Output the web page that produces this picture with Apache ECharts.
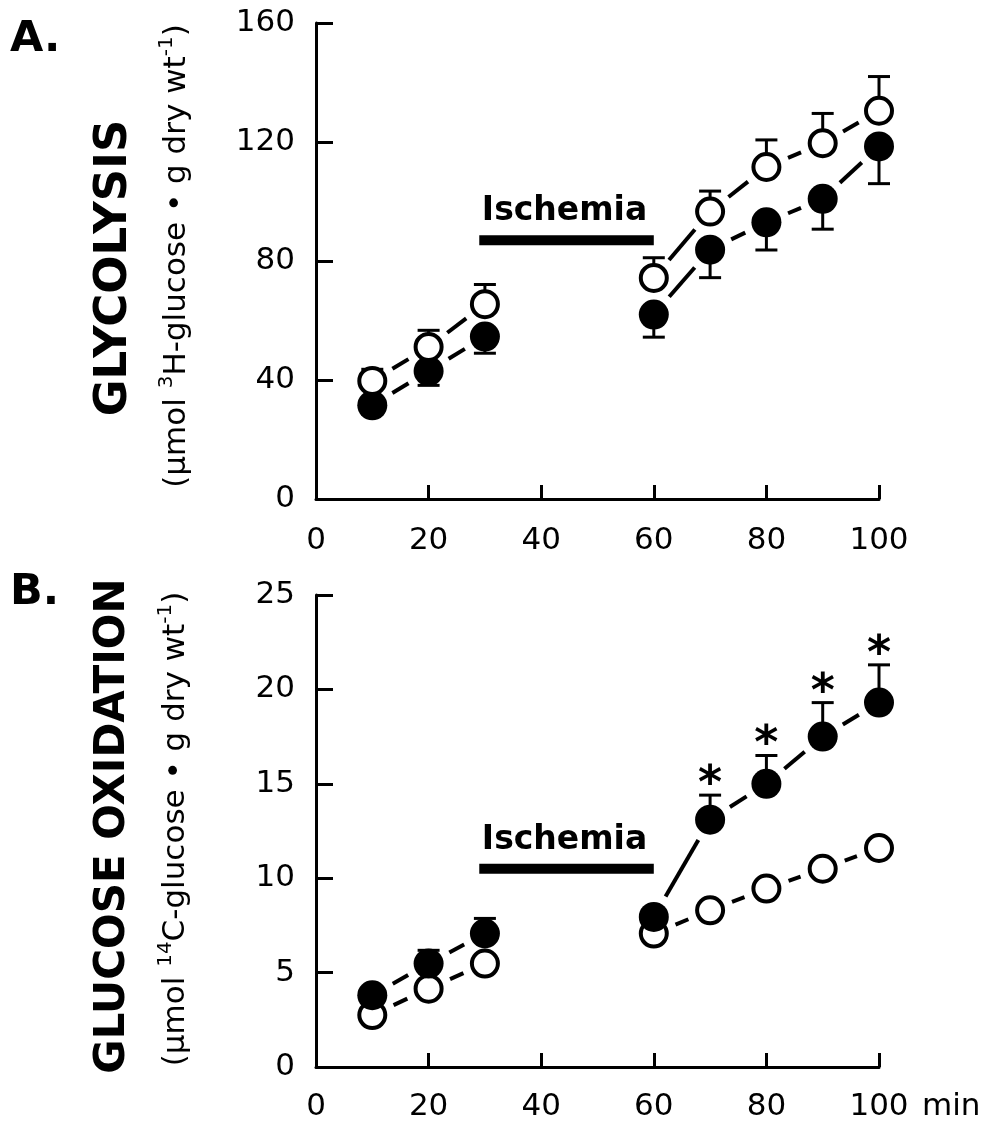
<!DOCTYPE html>
<html>
<head>
<meta charset="utf-8">
<script src="https://cdn.jsdelivr.net/npm/echarts@6/dist/echarts.min.js"></script>
<style>
html, body { margin: 0; padding: 0; background: #fff; }
#chart { width: 994px; height: 1128px; }
</style>
</head>
<body>
<div id="chart"></div>
<script>
// sampling times (min)
var minutes = [10, 20, 30, 60, 70, 80, 90, 100]

// A. glycolysis (umol 3H-glucose / g dry wt)
var glycOpen = [39.7, 51.1, 65.5, 74.3, 96.6, 111.6, 119.6, 130.5]
var glycOpenErr = [3.9, 5.6, 6.6, 6.8, 6.9, 9.1, 10.0, 11.5]
var glycFilled = [31.5, 43.0, 54.6, 62.0, 83.8, 93.0, 100.9, 118.5]
var glycFilledErr = [3.0, 4.8, 5.6, 7.6, 9.4, 9.3, 10.2, 12.5]

// B. glucose oxidation (umol 14C-glucose / g dry wt)
var oxOpen = [2.75, 4.15, 5.48, 7.07, 8.3, 9.45, 10.5, 11.6]
var oxFilled = [3.8, 5.48, 7.07, 7.95, 13.1, 15.0, 17.5, 19.3]
var oxFilledErr = [0.4, 0.7, 0.8, 0.4, 1.3, 1.5, 1.8, 2.0]
var oxSignificant = [0, 0, 0, 0, 1, 1, 1, 1]

// ischemia period
var ischemia = [29, 60]
var ischemiaLevel = [87, 10.5]

var chart = echarts.init(document.getElementById('chart'))

var R = 14.5      // marker radius in px
var GAP = 9       // gap between marker edge and dash

function pts(vals) {
    return minutes.map(function (m, i) { return [m, vals[i]] })
}
// consecutive points, not across the ischemia gap
function links(vals) {
    var out = []
    for (var i = 0; i < minutes.length - 1; i++) {
        if (minutes[i + 1] - minutes[i] > 10) continue
        out.push([minutes[i], vals[i], minutes[i + 1], vals[i + 1]])
    }
    return out
}
function bars(vals, errs, dir, sig) {
    return minutes.map(function (m, i) {
        return [m, vals[i], dir * errs[i], sig ? sig[i] : 0]
    })
}

function renderLink(params, api) {
    var p1 = api.coord([api.value(0), api.value(1)])
    var p2 = api.coord([api.value(2), api.value(3)])
    var dx = p2[0] - p1[0], dy = p2[1] - p1[1]
    var d = Math.sqrt(dx * dx + dy * dy)
    var len = Math.max(8, d - 2 * (R + GAP))
    var s = (d - len) / 2 / d, e = (d + len) / 2 / d
    return {
        type: 'line',
        shape: { x1: p1[0] + dx * s, y1: p1[1] + dy * s, x2: p1[0] + dx * e, y2: p1[1] + dy * e },
        style: { stroke: '#000', lineWidth: 4 }
    }
}

function renderErr(params, api) {
    var x = api.value(0), y = api.value(1), e = api.value(2)
    var p0 = api.coord([x, y])
    var p1 = api.coord([x, y + e])
    var kids = [
        { type: 'line', shape: { x1: p0[0], y1: p0[1], x2: p1[0], y2: p1[1] }, style: { stroke: '#000', lineWidth: 3 } },
        { type: 'line', shape: { x1: p1[0] - 11, y1: p1[1], x2: p1[0] + 11, y2: p1[1] }, style: { stroke: '#000', lineWidth: 3 } }
    ]
    if (api.value(3)) {
        kids.push({
            type: 'text', x: p1[0], y: p1[1] - 9,
            style: { text: '*', fontSize: 46, fontWeight: 'bold', fontFamily: 'DejaVu Sans', fill: '#000', align: 'center', verticalAlign: 'middle' }
        })
    }
    return { type: 'group', children: kids }
}

function renderIschemia(params, api) {
    var a = api.coord([api.value(0), api.value(2)])
    var b = api.coord([api.value(1), api.value(2)])
    return {
        type: 'group',
        children: [
            { type: 'rect', shape: { x: a[0], y: a[1] - 5, width: b[0] - a[0], height: 10 }, style: { fill: '#000' } },
            {
                type: 'text', x: (a[0] + b[0]) / 2 - 2, y: a[1] - 12,
                style: { text: 'Ischemia', fontSize: 33, fontWeight: 'bold', fontFamily: 'DejaVu Sans', fill: '#000', align: 'center', verticalAlign: 'bottom' }
            }
        ]
    }
}

var labelStyle = { color: '#000', fontSize: 31, fontFamily: 'DejaVu Sans' }

function xAxis(idx, margin) {
    return {
        type: 'value', gridIndex: idx, min: 0, max: 100, interval: 20,
        axisLine: { lineStyle: { color: '#000', width: 3 } },
        axisTick: { inside: true, length: 14, lineStyle: { color: '#000', width: 3 } },
        axisLabel: Object.assign({ margin: margin }, labelStyle),
        splitLine: { show: false }
    }
}
function yAxis(idx, max, interval) {
    return {
        type: 'value', gridIndex: idx, min: 0, max: max, interval: interval,
        axisLine: { show: true, lineStyle: { color: '#000', width: 3 } },
        axisTick: { show: true, inside: true, length: 17, lineStyle: { color: '#000', width: 3 } },
        axisLabel: Object.assign({ margin: 21 }, labelStyle),
        splitLine: { show: false }
    }
}

function markers(xi, vals, open, z) {
    return {
        type: 'scatter', xAxisIndex: xi, yAxisIndex: xi, data: pts(vals), z: z,
        symbol: 'circle', symbolSize: open ? 26 : 30,
        itemStyle: open ? { color: '#fff', borderColor: '#000', borderWidth: 4, opacity: 1 } : { color: '#000', opacity: 1 },
        emphasis: { disabled: true }, silent: true
    }
}
function linkSeries(xi, vals) {
    return {
        type: 'custom', xAxisIndex: xi, yAxisIndex: xi, data: links(vals), z: 2,
        encode: { x: [0, 2], y: [1, 3] }, renderItem: renderLink, silent: true, clip: false
    }
}
function errSeries(xi, data) {
    return {
        type: 'custom', xAxisIndex: xi, yAxisIndex: xi, data: data, z: 3,
        encode: { x: 0, y: 1 }, renderItem: renderErr, silent: true, clip: false
    }
}

var subRich = {
    n: { fontSize: 31, fontFamily: 'DejaVu Sans', lineHeight: 40 },
    s: { fontSize: 20, fontFamily: 'DejaVu Sans', verticalAlign: 'top', lineHeight: 40 }
}

var option = {
    animation: false,
    backgroundColor: '#fff',
    grid: [
        { left: 316, top: 23, width: 563, height: 476, outerBoundsMode: 'none' },
        { left: 316, top: 595, width: 563, height: 472, outerBoundsMode: 'none' }
    ],
    xAxis: [xAxis(0, 26), xAxis(1, 24)],
    yAxis: [yAxis(0, 160, 40), yAxis(1, 25, 5)],
    graphic: [
        { type: 'text', x: 10, y: 18, style: { text: 'A.', fontSize: 43, fontWeight: 'bold', fontFamily: 'DejaVu Sans', fill: '#000' } },
        { type: 'text', x: 10, y: 571, style: { text: 'B.', fontSize: 43, fontWeight: 'bold', fontFamily: 'DejaVu Sans', fill: '#000' } },
        {
            type: 'text', x: 114, y: 268, rotation: Math.PI / 2,
            style: { text: 'GLYCOLYSIS', fontSize: 45, fontWeight: 'bold', fontFamily: 'DejaVu Sans', fill: '#000', align: 'center', verticalAlign: 'middle' }
        },
        {
            type: 'text', x: 177, y: 256, rotation: Math.PI / 2,
            style: { text: '{n|(µmol }{s|3}{n|H-glucose • g dry wt}{s|-1}{n|)}', align: 'center', verticalAlign: 'middle', fill: '#000', rich: subRich }
        },
        {
            type: 'text', x: 113, y: 826, rotation: Math.PI / 2,
            style: { text: 'GLUCOSE OXIDATION', fontSize: 42, fontWeight: 'bold', fontFamily: 'DejaVu Sans', fill: '#000', align: 'center', verticalAlign: 'middle' }
        },
        {
            type: 'text', x: 176, y: 829, rotation: Math.PI / 2,
            style: { text: '{n|(µmol }{s|14}{n|C-glucose • g dry wt}{s|-1}{n|)}', align: 'center', verticalAlign: 'middle', fill: '#000', rich: subRich }
        },
        { type: 'text', x: 922, y: 1091, style: { text: 'min', fontSize: 31, fontFamily: 'DejaVu Sans', fill: '#000', verticalAlign: 'top' } }
    ],
    series: [
        // A
        linkSeries(0, glycOpen),
        linkSeries(0, glycFilled),
        errSeries(0, bars(glycOpen, glycOpenErr, 1)),
        errSeries(0, bars(glycFilled, glycFilledErr, -1)),
        markers(0, glycFilled, false, 5),
        markers(0, glycOpen, true, 6),
        {
            type: 'custom', xAxisIndex: 0, yAxisIndex: 0, data: [[ischemia[0], ischemia[1], ischemiaLevel[0]]],
            encode: { x: [0, 1], y: 2 }, renderItem: renderIschemia, silent: true, clip: false
        },
        // B
        linkSeries(1, oxOpen),
        linkSeries(1, oxFilled),
        errSeries(1, bars(oxFilled, oxFilledErr, 1, oxSignificant)),
        markers(1, oxOpen, true, 5),
        markers(1, oxFilled, false, 6),
        {
            type: 'custom', xAxisIndex: 1, yAxisIndex: 1, data: [[ischemia[0], ischemia[1], ischemiaLevel[1]]],
            encode: { x: [0, 1], y: 2 }, renderItem: renderIschemia, silent: true, clip: false
        }
    ]
}
chart.setOption(option)
</script>
</body>
</html>
